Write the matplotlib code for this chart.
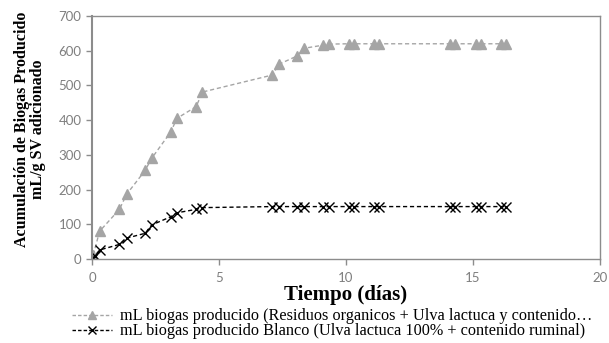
import matplotlib
matplotlib.use("Agg")
import matplotlib.pyplot as plt
from matplotlib.lines import Line2D

# Data
dias_a = [0.05, 0.3, 1.08, 1.36, 2.09, 2.35, 3.11, 3.34, 4.1, 4.35, 7.1, 7.36, 8.08, 8.35,
          9.1, 9.34, 10.1, 10.3, 11.1, 11.3, 14.1, 14.3, 15.1, 15.3, 16.1, 16.3]
biogas_a = [12, 80, 143, 186, 255, 290, 367, 405, 439, 481, 530, 561, 585, 607,
            616, 619, 620, 620, 620, 620, 620, 620, 620, 620, 620, 620]
dias_b = [0.0, 0.1, 0.3, 1.08, 1.36, 2.09, 2.35, 3.11, 3.34, 4.1, 4.35, 7.1, 7.36, 8.08, 8.35,
          9.1, 9.34, 10.1, 10.3, 11.1, 11.3, 14.1, 14.3, 15.1, 15.3, 16.1, 16.3]
biogas_b = [0, 8, 26, 42, 60, 74, 98, 122, 133, 143, 148, 151, 151, 151, 151,
            151, 151, 151, 151, 151, 151, 151, 151, 151, 151, 151, 151]
label_a = "mL biogas producido (Residuos organicos + Ulva lactuca y contenido\u2026"
label_b = "mL biogas producido Blanco (Ulva lactuca 100% + contenido ruminal)"
xticks = [0, 5, 10, 15, 20]
yticks = [0, 100, 200, 300, 400, 500, 600, 700]

fig = plt.figure(figsize=(6.09, 3.43), dpi=100)
ax = fig.add_axes([92/609, 1-259/343, (600-92)/609, (259-16)/343])

ax.plot(dias_a, biogas_a, color="#A5A5A5", linestyle=(0, (3, 2)), linewidth=1.0,
        marker="^", markersize=7, markeredgecolor="#A5A5A5", markerfacecolor="#A5A5A5")
ax.plot(dias_b, biogas_b, color="black", linestyle=(0, (3, 2)), linewidth=1.0,
        marker="x", markersize=6.5, markeredgewidth=1.0, markeredgecolor="black")

ax.set_xlim(0, 20)
ax.set_ylim(0, 700)
ax.set_xticks(xticks)
ax.set_yticks(yticks)
for s in ax.spines.values():
    s.set_color("#8C8C8C")
    s.set_linewidth(1.0)
ax.spines["left"].set_linewidth(1.5)
ax.tick_params(axis="both", colors="#8C8C8C", labelcolor="#7F7F7F", length=4, width=1.0,
               direction="out", labelsize=9.5)
ax.tick_params(axis="x", pad=5)
for lab in ax.get_xticklabels() + ax.get_yticklabels():
    lab.set_family(["Lato", "DejaVu Sans"])

ax.set_xlabel("Tiempo (días)", family="Liberation Serif", fontweight="bold", fontsize=15)
ax.xaxis.set_label_coords(0.5, -0.107)
ax.set_ylabel("Acumulación de Biogas Producido\nmL/g SV adicionado", family="Liberation Serif",
              fontweight="bold", fontsize=11.5, linespacing=1.05)
ax.yaxis.set_label_coords(-0.09, 0.535)

h_a = Line2D([], [], color="#A5A5A5", linestyle=(0, (2.5, 1.5)), linewidth=1.0, marker="^",
             markersize=6, markeredgecolor="#A5A5A5", markerfacecolor="#A5A5A5")
h_b = Line2D([], [], color="black", linestyle=(0, (2.5, 1.5)), linewidth=1.0, marker="x",
             markersize=6, markeredgecolor="black")
fig.legend([h_a, h_b], [label_a, label_b], loc="lower left",
           bbox_to_anchor=(62/609, -0.018), frameon=False,
           prop={"family": "Liberation Serif", "size": 11.7},
           handlelength=2.5, handletextpad=0.45, labelspacing=-0.05, borderaxespad=0.2)

fig.savefig("out.png", dpi=100)
